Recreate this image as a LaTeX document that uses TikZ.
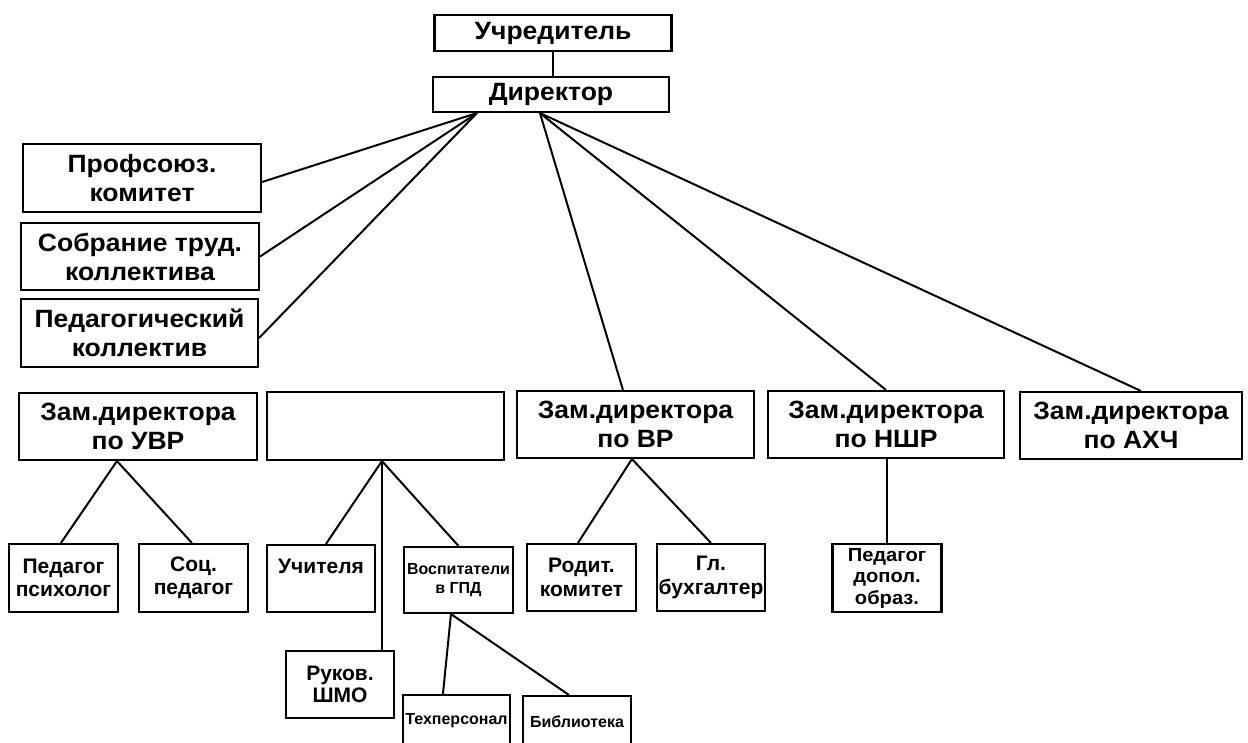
\documentclass[tikz,border=0pt]{standalone}
\usepackage{fontspec}
\setmainfont{Liberation Sans}
\newfontfamily\wb{Liberation Sans Bold}
\newfontfamily\nb[FakeStretch=1.06]{Liberation Sans Bold}
\usetikzlibrary{calc}
\newcommand\fsL{\fontsize{25}{29}\selectfont}
\newcommand\fsM{\fontsize{21}{23.5}\selectfont}
\newcommand\fsR{\fontsize{21}{22}\selectfont}
\newcommand\fsP{\fontsize{19}{21.5}\selectfont}
\newcommand\fsS{\fontsize{16}{19}\selectfont}
\begin{document}
\begin{tikzpicture}[x=1pt,y=-1pt,
  box/.style={draw, line width=2.1pt, inner sep=0pt, align=center, text=black},
  sz/.style 2 args={minimum width=#1pt, minimum height=#2pt},
  link/.style={line width=2pt}]
\useasboundingbox (0,0) rectangle (1248,742);
\clip (0,0) rectangle (1248,742);
\fill[white] (0,0) rectangle (1248,742);

% top
\node[box, sz={237}{36}, font=\nb\fsL] (uch) at (553,33) {Учредитель};
\node[box, sz={236}{35}, font=\nb\fsL] (dir) at (551,94.5) {Директор};

% left column
\node[box, sz={238}{68}, font=\nb\fsL] (prof) at (142,178) {Профсоюз.\\комитет};
\node[box, sz={238}{67}, font=\nb\fsL] (sobr) at (140,256.5) {Собрание труд.\\коллектива};
\node[box, sz={237}{68}, font=\nb\fsL] (ped) at (139.5,333) {Педагогический\\коллектив};

% second row
\node[box, sz={238}{67}, font=\nb\fsL] (uvr) at (138,426.5) {Зам.директора\\по УВР};
\node[box, sz={237}{68}] (blank) at (385.5,426) {};
\node[box, sz={237}{67}, font=\nb\fsL] (vr) at (635.5,424.5) {Зам.директора\\по ВР};
\node[box, sz={236}{67}, font=\nb\fsL] (nshr) at (886,424.5) {Зам.директора\\по НШР};
\node[box, sz={222}{67}, font=\nb\fsL] (ahch) at (1131,425.5) {Зам.директора\\по АХЧ};

% third row
\node[box, sz={109}{68}, font=\wb\fsM] (psy) at (63.5,578) {Педагог\\психолог};
\node[box, sz={109}{68}, font=\wb\fsM] (soc) at (193.5,578) {Соц.\\педагог};
\node[box, sz={108}{67}, font=\wb\fsM, text depth=25pt] (uchit) at (321,578.5) {Учителя};
\node[box, sz={109}{66}, font=\wb\fsS] (vosp) at (458.5,580) {Воспитатели\\в ГПД};
\node[box, sz={109}{67}, font=\wb\fsM] (rod) at (581.5,577.5) {Родит.\\комитет};
\node[box, sz={108}{67}, font=\wb\fsM] (buh) at (711,577.5) {Гл.\\бухгалтер};
\node[box, sz={109}{68}, font=\nb\fsP] (pdo) at (887,578) {Педагог\\допол.\\образ.};

% bottom
\node[box, sz={108}{67}, font=\wb\fsR] (ruk) at (340,684.5) {Руков.\\ШМО};
\node[box, sz={107}{52}, font=\wb\fsS] (tex) at (456.5,721) {Техперсонал};
\node[box, sz={108}{52}, font=\wb\fsS] (bib) at (577,722) {Библиотека};

% anchor points
\coordinate (dL) at ($(dir.south west)+(45,0)$);
\coordinate (dR) at ($(dir.south west)+(108,0)$);
\coordinate (uvrB) at ($(uvr.south west)+(99,0)$);
\coordinate (blB) at ($(blank.south west)+(116,0)$);
\coordinate (vrB) at ($(vr.south west)+(116,0)$);
\coordinate (vospB) at ($(vosp.south west)+(48,0)$);

% connectors
\draw[link] (uch.south) -- (uch.south |- dir.north);
\draw[link] (dL) -- ([yshift=-4pt]prof.east);
\draw[link] (dL) -- (sobr.east);
\draw[link] (dL) -- ([yshift=-5pt]ped.east);
\draw[link] (dR) -- ($(vr.north west)+(107,0)$);
\draw[link] (dR) -- (nshr.north);
\draw[link] (dR) -- ($(ahch.north west)+(122,0)$);
\draw[link] (uvrB) -- ($(psy.north west)+(53,0)$);
\draw[link] (uvrB) -- ($(soc.north west)+(54,0)$);
\draw[link] (blB) -- ($(uchit.north west)+(60,0)$);
\draw[link] (blB) -- (vosp.north);
\draw[link] (blB) -- (blB |- ruk.north);
\draw[link] (vrB) -- ($(rod.north west)+(52,0)$);
\draw[link] (vrB) -- (buh.north);
\draw[link] (pdo.north) -- (pdo.north |- nshr.south);
\draw[link] (vospB) -- ($(tex.north west)+(41,0)$);
\draw[link] (vospB) -- ($(bib.north west)+(47,0)$);
\end{tikzpicture}
\end{document}
